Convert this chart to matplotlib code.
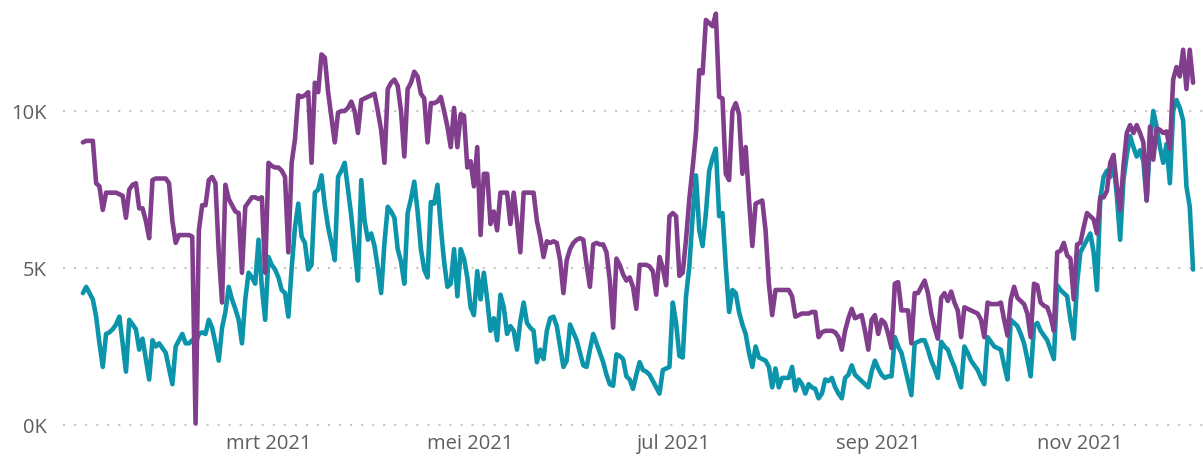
import matplotlib
matplotlib.use("Agg")
import matplotlib.pyplot as plt
import numpy as np
import pandas as pd

# daily values in thousands (one row = one week)
START = "2021-01-04"
purple = [
    9.0, 9.05, 9.05, 9.05, 7.7, 7.6, 6.85,
    7.4, 7.4, 7.4, 7.4, 7.35, 7.3, 6.6,
    7.5, 7.65, 7.7, 6.9, 6.9, 6.5, 5.95,
    7.8, 7.85, 7.85, 7.85, 7.85, 7.7, 6.5,
    5.8, 6.05, 6.05, 6.05, 6.05, 6.0, 0.05,
    6.2, 7.0, 7.0, 7.8, 7.9, 7.7, 5.5,
    3.9, 7.65, 7.2, 7.0, 6.8, 6.75, 4.85,
    6.95, 7.1, 7.25, 7.25, 7.2, 7.25, 4.85,
    8.35, 8.25, 8.2, 8.2, 8.1, 7.9, 5.5,
    8.35, 9.1, 10.5, 10.45, 10.5, 10.6, 8.35,
    10.9, 10.6, 11.8, 11.7, 10.6, 9.8, 9.0,
    9.95, 10.0, 10.0, 10.1, 10.3, 10.0, 9.3,
    10.35, 10.4, 10.45, 10.5, 10.55, 10.0, 9.4,
    8.35, 10.7, 10.9, 11.0, 10.8, 10.0, 8.55,
    10.7, 10.9, 11.25, 11.1, 10.55, 10.4, 9.0,
    10.25, 10.25, 10.3, 10.45, 10.0, 9.5, 8.85,
    10.1, 8.85, 9.9, 9.85, 8.2, 8.4, 7.6,
    8.85, 6.05, 8.0, 8.0, 6.4, 6.8, 6.2,
    7.4, 7.4, 7.4, 6.4, 7.4, 6.5, 5.5,
    7.4, 7.4, 7.4, 7.4, 6.5, 6.0, 5.35,
    5.85, 5.8, 5.85, 5.8, 5.25, 4.2, 5.25,
    5.6, 5.8, 5.9, 5.95, 5.9, 5.1, 4.4,
    5.75, 5.8, 5.75, 5.75, 5.5, 4.6, 3.1,
    5.3, 5.1, 4.8, 4.6, 4.7, 4.4, 3.7,
    5.1, 5.1, 5.1, 5.05, 4.9, 4.15, 5.35,
    5.0, 4.45, 6.65, 6.75, 6.65, 4.75, 4.85,
    5.9, 7.2, 8.2, 9.3, 11.3, 11.2, 12.9,
    12.8, 12.7, 13.1, 10.45, 10.4, 8.0, 7.8,
    10.0, 10.25, 9.9, 8.0, 8.85, 7.2, 5.7,
    7.05, 7.1, 7.15, 6.2, 4.5, 3.5, 4.3,
    4.3, 4.3, 4.3, 4.3, 4.1, 3.45, 3.5,
    3.55, 3.55, 3.55, 3.6, 3.6, 2.8, 2.95,
    3.0, 3.0, 3.0, 2.95, 2.8, 2.4, 3.0,
    3.4, 3.7, 3.4, 3.45, 3.5, 3.0, 2.4,
    3.35, 3.5, 2.9, 3.35, 3.25, 2.9, 2.45,
    4.5, 4.55, 3.65, 3.65, 3.65, 2.6, 4.2,
    4.2, 4.4, 4.6, 4.2, 3.55, 3.1, 2.75,
    4.05, 4.2, 3.95, 4.25, 3.9, 3.65, 2.8,
    3.75, 3.7, 3.65, 3.6, 3.55, 3.35, 2.8,
    3.9, 3.85, 3.85, 3.85, 3.9, 3.35, 2.85,
    4.0, 4.4, 4.05, 3.95, 3.85, 3.55, 2.8,
    4.5, 4.45, 3.9, 3.8, 3.75, 3.45, 3.0,
    5.5, 5.55, 5.8, 5.4, 5.3, 4.0, 5.75,
    5.8, 6.3, 6.75, 6.65, 6.55, 6.1, 7.25,
    7.25, 7.45, 8.35, 8.6, 7.6, 6.85, 8.25,
    9.3, 9.55, 9.3, 9.55, 9.3, 9.0, 7.15,
    9.5, 8.45, 9.45, 9.4, 9.3, 9.35, 8.8,
    11.0, 11.4, 11.1, 11.95, 10.7, 11.95, 10.9,
]
teal = [
    4.2, 4.4, 4.2, 4.0, 3.45, 2.6, 1.85,
    2.9, 2.95, 3.05, 3.2, 3.45, 2.6, 1.7,
    3.35, 3.2, 3.05, 2.4, 2.75, 2.1, 1.45,
    2.7, 2.5, 2.6, 2.45, 2.3, 1.8, 1.3,
    2.5, 2.7, 2.9, 2.6, 2.6, 2.7, 2.6,
    2.9, 2.95, 2.9, 3.35, 3.1, 2.6, 2.05,
    3.1, 3.6, 4.4, 4.0, 3.7, 3.35, 2.6,
    4.0, 4.85, 4.7, 4.5, 5.9, 4.4, 3.35,
    5.35, 5.1, 4.95, 4.7, 4.3, 4.2, 3.45,
    5.0, 6.3, 7.05, 6.0, 5.8, 4.95, 5.1,
    7.4, 7.5, 7.95, 7.0, 6.3, 5.8, 5.25,
    7.9, 8.1, 8.35, 7.5, 6.65, 5.6, 4.6,
    7.8, 6.5, 5.9, 6.1, 5.7, 5.0, 4.2,
    5.8, 6.95, 6.8, 6.6, 5.6, 5.2, 4.5,
    6.75, 7.2, 7.75, 6.8, 5.6, 4.95, 4.7,
    7.1, 7.05, 7.65, 6.3, 5.2, 4.4, 4.5,
    5.6, 4.1, 5.6, 5.3, 4.7, 3.75, 3.5,
    4.9, 4.0, 4.85, 4.0, 3.0, 3.4, 2.7,
    4.15, 3.75, 2.9, 3.15, 3.0, 2.4, 3.3,
    3.9, 3.25, 3.1, 3.0, 2.0, 2.4, 2.1,
    3.0, 3.4, 3.45, 3.15, 2.5, 1.85, 2.05,
    3.2, 2.95, 2.7, 2.3, 1.9, 1.85, 2.4,
    2.9, 2.6, 2.3, 2.0, 1.6, 1.3, 1.25,
    2.25, 2.2, 2.1, 1.55, 1.45, 1.15, 1.6,
    2.0, 1.75, 1.7, 1.6, 1.4, 1.2, 1.0,
    1.75, 1.8, 1.85, 3.9, 3.25, 2.2, 2.15,
    4.1, 5.05, 6.65, 7.95, 6.2, 5.7, 6.75,
    8.1, 8.5, 8.8, 6.65, 6.75, 5.05, 3.6,
    4.3, 4.2, 3.6, 3.2, 2.9, 2.3, 1.85,
    2.5, 2.15, 2.1, 2.05, 1.85, 1.2, 1.8,
    1.2, 1.5, 1.5, 1.5, 1.85, 1.1, 1.45,
    1.3, 1.0, 1.3, 1.2, 1.15, 0.85, 1.0,
    1.45, 1.4, 1.5, 1.2, 1.0, 0.85, 1.5,
    1.6, 1.9, 1.6, 1.5, 1.4, 1.3, 1.2,
    1.7, 2.05, 1.8, 1.6, 1.5, 1.55, 1.55,
    2.8, 2.5, 2.3, 1.85, 1.4, 0.95, 2.6,
    2.65, 2.7, 2.7, 2.4, 2.05, 1.8, 1.5,
    2.65, 2.5, 2.4, 2.1, 1.85, 1.5, 1.2,
    2.5, 2.3, 2.05, 1.9, 1.75, 1.5, 1.3,
    2.8, 2.65, 2.5, 2.45, 2.4, 1.9, 1.45,
    3.35, 3.25, 3.15, 2.9, 2.6, 2.1, 1.55,
    3.15, 3.25, 3.0, 2.85, 2.7, 2.4, 2.1,
    4.45, 4.3, 4.2, 4.1, 3.35, 2.75, 4.5,
    5.5, 5.7, 5.9, 6.1, 5.5, 4.3, 7.2,
    7.9, 8.1, 7.9, 8.35, 7.3, 5.9, 7.8,
    8.6, 9.2, 8.85, 8.55, 8.75, 8.4, 7.15,
    8.95, 10.0, 9.5, 8.85, 8.35, 8.95, 7.7,
    10.0, 10.35, 10.1, 9.7, 7.6, 6.95, 4.95,
]

tick_dates = ["2021-03-01", "2021-05-01", "2021-07-01", "2021-09-01", "2021-11-01"]
tick_labels = ["mrt 2021", "mei 2021", "jul 2021", "sep 2021", "nov 2021"]
y_ticks = [0, 5000, 10000]
y_labels = ["0K", "5K", "10K"]

PURPLE = "#813E8C"
TEAL = "#0C95AA"
GRID = "#C8C6C4"
LABEL = "#605E5C"

plt.rcParams["font.family"] = ["Open Sans", "DejaVu Sans"]

dates = pd.date_range(START, periods=len(purple), freq="D")

fig = plt.figure(figsize=(12.03, 4.57), dpi=100)
ax = fig.add_axes([63 / 1203, 27 / 457, 1140 / 1203, 430 / 457])

ax.plot(dates, np.array(teal) * 1000, color=TEAL, lw=3.3,
        solid_joinstyle="round", solid_capstyle="round", zorder=2)
ax.plot(dates, np.array(purple) * 1000, color=PURPLE, lw=3.3,
        solid_joinstyle="round", solid_capstyle="round", zorder=3)

ax.set_xlim(dates[0] - pd.Timedelta(days=6), dates[0] + pd.Timedelta(days=338))
ax.set_ylim(-159, 13535)

ax.set_yticks(y_ticks)
ax.set_yticklabels(y_labels)
ax.set_xticks(pd.to_datetime(tick_dates))
ax.set_xticklabels(tick_labels)

ax.yaxis.grid(True, linestyle=(0, (1, 4.3)), lw=1.5, color=GRID)
ax.xaxis.grid(False)
ax.set_axisbelow(True)
for s in ax.spines.values():
    s.set_visible(False)
ax.tick_params(axis="both", length=0, labelsize=14.5, labelcolor=LABEL)
ax.tick_params(axis="y", pad=11.5)
ax.tick_params(axis="x", pad=3)

fig.savefig("out.png", dpi=100, facecolor="white")
